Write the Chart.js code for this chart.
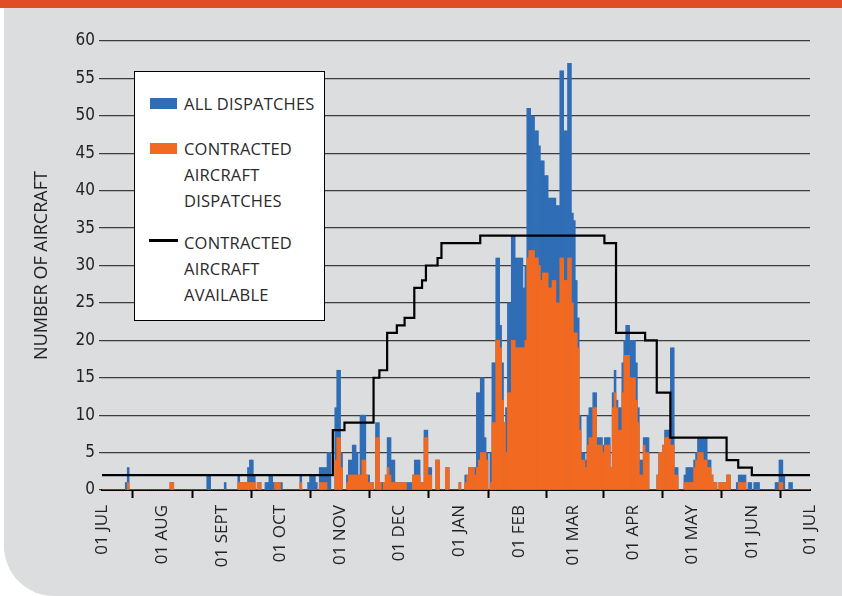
<!DOCTYPE html>
<html>
<head>
<meta charset="utf-8">
<script src="https://cdn.jsdelivr.net/npm/chart.js@4.4.1/dist/chart.umd.min.js"></script>
<style>
  html, body { margin: 0; padding: 0; background: #ffffff; }
  #wrap { position: relative; width: 842px; height: 596px; overflow: hidden; }
  #band { position: absolute; left: 0; top: 0; width: 842px; height: 8px; background: #e04e27; }
  #panel { position: absolute; left: 4px; top: 8px; width: 838px; height: 588px; background: #dcdddf; border-bottom-left-radius: 50px; }
  #chart { position: absolute; left: 0; top: 0; }
  #legend { position: absolute; left: 134px; top: 71px; width: 189px; height: 248px; background: #fff; border: 1px solid #000;
            font-family: 'Open Sans', 'Noto Sans', sans-serif; font-size: 16.5px; letter-spacing: 0.2px; color: #2a2a2a; }
  .sw { position: absolute; }
  .lt { position: absolute; left: 49px; line-height: 26px; white-space: nowrap; }
</style>
</head>
<body>
<div id="wrap">
  <div id="band"></div>
  <div id="panel"></div>
  <canvas id="chart" width="842" height="596"></canvas>
  <div id="legend">
    <div class="sw" style="left:15px;top:26px;width:27px;height:11px;background:#2f6db6;"></div>
    <div class="lt" style="top:19px;">ALL DISPATCHES</div>
    <div class="sw" style="left:15px;top:71px;width:27px;height:11px;background:#f26a21;"></div>
    <div class="lt" style="top:64px;">CONTRACTED<br>AIRCRAFT<br>DISPATCHES</div>
    <div class="sw" style="left:14px;top:167px;width:29px;height:3px;background:#000;"></div>
    <div class="lt" style="top:158px;">CONTRACTED<br>AIRCRAFT<br>AVAILABLE</div>
  </div>
</div>
<script>
// ---- DATA (day 0 = 01 JUL) ----
const monthLabels = ['01 JUL','01 AUG','01 SEPT','01 OCT','01 NOV','01 DEC','01 JAN','01 FEB','01 MAR','01 APR','01 MAY','01 JUN','01 JUL'];
const monthStartDay = [0,31,62,92,123,153,184,215,243,274,304,335,365];

// All dispatches, one value per day, month by month
const allJul = [0,0,0,0,0,0,0,0,0,0, 0,0,1,3,0,0,0,0,0,0, 0,0,0,0,0,0,0,0,0,0, 0];
const allAug = [0,0,0,0,1,1,0,0,0,0, 0,0,0,0,0,0,0,0,0,0, 0,0,0,2,2,0,0,0,0,0, 0];
const allSep = [0,1,0,0,0,0,0,0,2,1, 1,1,1,3,4,4,2,0,1,1, 0,0,1,1,2,2,1,1,1,1];
const allOct = [1,0,0,0,0,0,0,0,0,0, 2,0,0,0,1,2,2,2,1,0, 3,3,3,3,5,5,0,0,11,16, 16];
const allNov = [5,0,0,2,4,4,6,6,5,2, 10,10,10,2,2,1,1,0,9,9, 1,1,1,2,7,7,4,4,1,1];
const allDec = [1,1,1,1,1,1,1,2,4,4, 4,1,1,8,8,3,3,0,0,4, 4,0,0,0,3,3,0,0,0,0, 0];
const allJan = [1,0,0,2,2,3,3,3,3,13, 13,15,15,7,5,0,5,17,17,31, 31,22,17,9,11,25,25,34,34,31, 31];
const allFeb = [31,31,27,30,51,51,50,50,48,48, 46,44,44,42,42,39,39,39,39,38, 38,56,56,48,48,57,57,37];
const allMar = [36,28,23,10,5,5,4,10,11,11, 13,13,7,7,7,6,7,7,7,3, 13,16,12,11,11,17,20,22,22,20, 20];
const allApr = [20,17,11,4,4,7,7,7,0,0, 0,0,2,5,5,6,8,8,8,19, 19,3,3,0,0,0,2,3,3,3];
const allMay = [3,4,5,7,7,7,7,7,4,4, 2,1,1,0,1,1,1,1,2,2, 0,0,0,1,2,2,2,2,0,1, 1];
const allJun = [0,1,1,1,0,0,0,0,0,0, 0,0,1,1,4,4,2,0,0,1, 1,0,0,0,0,0,0,0,0,0];

// Contracted aircraft dispatches, one value per day
const conJul = [0,0,0,0,0,0,0,0,0,0, 0,0,0,1,0,0,0,0,0,0, 0,0,0,0,0,0,0,0,0,0, 0];
const conAug = [0,0,0,0,1,1,0,0,0,0, 0,0,0,0,0,0,0,0,0,0, 0,0,0,0,0,0,0,0,0,0, 0];
const conSep = [0,0,0,0,0,0,0,0,1,1, 1,1,1,1,1,1,1,0,1,1, 0,0,0,0,0,0,0,1,1,1];
const conOct = [0,0,0,0,0,0,0,0,0,0, 1,0,0,0,0,0,0,0,0,0, 1,1,1,1,0,0,0,0,4,7, 7];
const conNov = [3,0,0,1,2,2,2,2,2,2, 2,4,4,2,1,1,1,0,7,7, 1,0,1,2,3,2,1,1,1,1];
const conDec = [1,1,1,1,0,0,0,2,2,2, 2,1,1,7,7,2,2,0,0,4, 4,0,0,0,3,3,0,0,0,0, 0];
const conJan = [1,0,0,1,2,3,3,3,2,3, 4,5,5,5,4,0,1,9,9,20, 20,19,12,9,5,13,13,20,20,19, 19];
const conFeb = [19,19,19,20,31,32,32,32,31,31, 30,28,29,29,29,27,27,28,28,25, 25,31,31,28,28,31,31,25];
const conMar = [21,21,19,8,4,4,3,6,7,7, 11,11,6,6,6,5,6,6,6,3, 11,13,11,8,8,13,18,18,18,15, 15];
const conApr = [15,12,9,2,2,6,5,5,0,0, 0,0,2,5,5,6,7,7,7,6, 6,2,2,0,0,0,1,1,1,1];
const conMay = [1,3,4,5,5,5,4,4,3,3, 2,1,1,0,1,1,1,1,2,2, 0,0,0,0,1,1,1,1,0,0, 0];
const conJun = [0,0,0,0,0,0,0,0,0,0, 0,0,0,0,1,1,0,0,0,0, 0,0,0,0,0,0,0,0,0,0];

// Contracted aircraft available: level from a given day onward
const availFromDay = [0, 119, 125, 140, 143, 147, 152, 156, 161, 165, 167, 170, 173, 175, 195, 259, 265, 280, 286, 293, 322, 328, 335, 365];
const availCount   = [2,   8,   9,  15,  16,  21,  22,  23,  27,  28,  30,  30,  31,  33,  34,  33,  21,  20,  13,   7,   4,   3,   2,   2];

// ---- build ----
const allDaily = [].concat(allJul, allAug, allSep, allOct, allNov, allDec, allJan, allFeb, allMar, allApr, allMay, allJun);
const conDaily = [].concat(conJul, conAug, conSep, conOct, conNov, conDec, conJan, conFeb, conMar, conApr, conMay, conJun);
const toBars = arr => arr.map((v, d) => ({ x: d + 0.5, y: v }));
const availPts = availFromDay.map((d, i) => ({ x: d, y: availCount[i] }));

new Chart(document.getElementById('chart'), {
  data: {
    datasets: [
      { type: 'line', label: 'CONTRACTED AIRCRAFT AVAILABLE', data: availPts, order: 0,
        borderColor: '#000', borderWidth: 2.2, pointRadius: 0, stepped: true, fill: false },
      { type: 'bar', label: 'CONTRACTED AIRCRAFT DISPATCHES', data: toBars(conDaily), order: 1,
        backgroundColor: '#f26a21', borderWidth: 0, grouped: false, barPercentage: 1, categoryPercentage: 1 },
      { type: 'bar', label: 'ALL DISPATCHES', data: toBars(allDaily), order: 2,
        backgroundColor: '#2f6db6', borderWidth: 0, grouped: false, barPercentage: 1, categoryPercentage: 1 }
    ]
  },
  options: {
    responsive: false,
    animation: false,
    layout: { padding: { top: 41, right: 32, bottom: 0, left: 0 } },
    plugins: { legend: { display: false }, tooltip: { enabled: false } },
    scales: {
      x: {
        type: 'linear', min: 0, max: 365, offset: false,
        afterBuildTicks: s => { s.ticks = monthStartDay.map(v => ({ value: v })); },
        afterFit: s => { s.height = 106; },
        ticks: {
          autoSkip: false, maxRotation: 90, minRotation: 90, padding: 7, color: '#222',
          font: { family: "'Open Sans', 'Noto Sans', sans-serif", size: 17 },
          callback: (v, i) => monthLabels[i]
        },
        grid: { drawOnChartArea: false, drawTicks: true, tickLength: 8, tickColor: '#000', tickWidth: 2, color: '#000' },
        border: { display: true, color: '#000', width: 2 }
      },
      y: {
        min: 0, max: 60,
        afterFit: s => { s.width = 102; },
        ticks: { stepSize: 5, padding: 4, color: '#222',
                 font: { family: "'Liberation Sans Narrow', 'DejaVu Sans Condensed', 'Open Sans', sans-serif", size: 17 } },
        grid: { color: '#3c3c3c', lineWidth: 1.2, tickLength: 3, drawTicks: true },
        border: { display: false },
        title: { display: true, text: 'NUMBER OF AIRCRAFT', color: '#222',
                 font: { family: "'Open Sans', 'Noto Sans', sans-serif", size: 18 }, padding: { top: 31, bottom: 0 } }
      }
    }
  }
});
</script>
</body>
</html>
